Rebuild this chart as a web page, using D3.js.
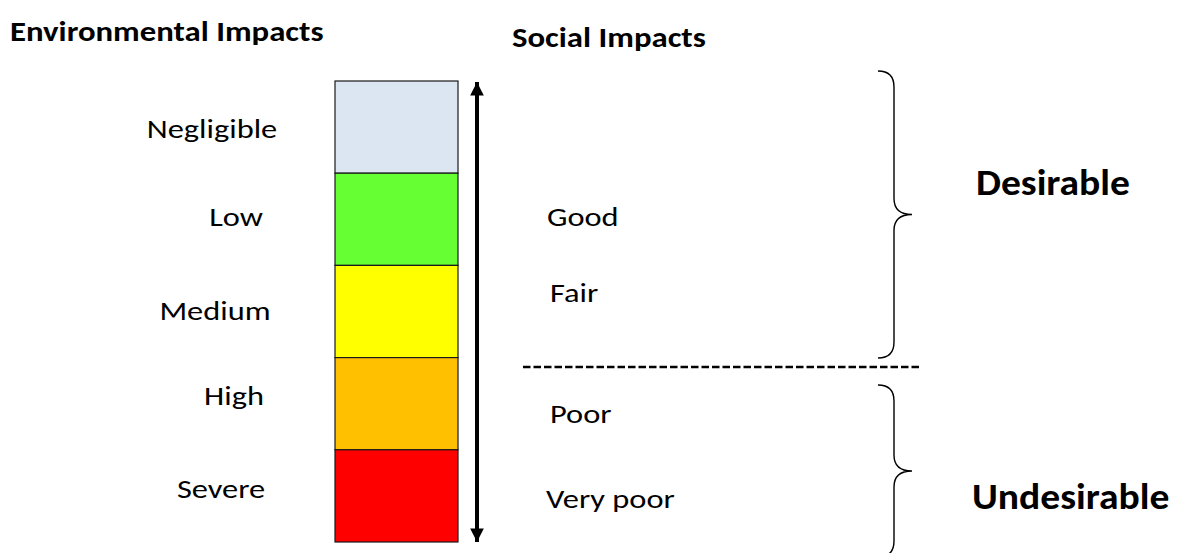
<!DOCTYPE html>
<html>
<head>
<meta charset="utf-8">
<script src="https://cdn.jsdelivr.net/npm/d3@7"></script>
<style>
  body { margin: 0; background: #fff; }
  svg text { font-family: Carlito, Lato, "Open Sans", sans-serif; fill: #000; }
</style>
</head>
<body>
<div id="chart"></div>
<script>
const levels = ["Negligible", "Low", "Medium", "High", "Severe"];
const levelColors = ["#dce6f2", "#66ff33", "#ffff00", "#ffc000", "#ff0000"];
const socialLabels = ["Good", "Fair", "Poor", "Very poor"];
const verdicts = ["Desirable", "Undesirable"];

const width = 1190, height = 553;

const svg = d3.select("#chart")
  .append("svg")
  .attr("width", width)
  .attr("height", height);

// the source text is a little wider than Lato, so stretch it sideways
const regStretch = 1.2, boldStretch = 1.13;

// vertical scale for the coloured bar
const y = d3.scaleBand()
  .domain(levels)
  .range([81, 542])
  .padding(0);

const color = d3.scaleOrdinal()
  .domain(levels)
  .range(levelColors);

const barX = 335, barW = 123;

svg.append("g")
  .selectAll("rect")
  .data(levels).enter()
  .append("rect")
  .attr("x", barX)
  .attr("y", d => y(d))
  .attr("width", barW)
  .attr("height", y.bandwidth())
  .attr("fill", d => color(d))
  .attr("stroke", "#1a1a1a")
  .attr("stroke-width", 1.2);

// left labels (each sits a little differently in the original)
const levelCx = [212, 236, 215, 234, 221];
const levelDy = [11, 7, 8, 1, 2];
svg.append("g")
  .selectAll("text")
  .data(levels).enter()
  .append("text")
  .attr("transform", (d, i) => "translate(" + levelCx[i] + "," +
    (y(d) + y.bandwidth() / 2 + levelDy[i]) + ") scale(" + regStretch + ",1)")
  .attr("text-anchor", "middle")
  .style("font-size", "27px")
  .text(d => d);

// double-headed arrow
const defs = svg.append("defs");
defs.append("marker")
  .attr("id", "head")
  .attr("viewBox", "0 0 10 10")
  .attr("refX", 10).attr("refY", 5)
  .attr("markerWidth", 3.4).attr("markerHeight", 3.4)
  .attr("markerUnits", "strokeWidth")
  .attr("orient", "auto-start-reverse")
  .append("path")
  .attr("d", "M0,0 L10,5 L0,10 Z")
  .attr("fill", "#000");

svg.append("line")
  .attr("x1", 477).attr("x2", 477)
  .attr("y1", y.range()[0] + 1).attr("y2", y.range()[1])
  .attr("stroke", "#000")
  .attr("stroke-width", 4)
  .attr("marker-start", "url(#head)")
  .attr("marker-end", "url(#head)");

// titles
svg.append("text")
  .attr("transform", "translate(10,41) scale(" + boldStretch + ",1)")
  .style("font-size", "29px").style("font-weight", "bold")
  .text("Environmental Impacts");
svg.append("text")
  .attr("transform", "translate(512,47) scale(" + boldStretch + ",1)")
  .style("font-size", "29px").style("font-weight", "bold")
  .text("Social Impacts");

// social labels
const socialY = d3.scaleOrdinal()
  .domain(socialLabels)
  .range([226, 302, 423, 508]);
const socialX = [547, 550, 550, 546];
svg.append("g")
  .selectAll("text")
  .data(socialLabels).enter()
  .append("text")
  .attr("transform", (d, i) => "translate(" + socialX[i] + "," + socialY(d) + ") scale(" + regStretch + ",1)")
  .style("font-size", "27px")
  .text(d => d);

// dashed divider
svg.append("line")
  .attr("x1", 523).attr("x2", 921)
  .attr("y1", 367).attr("y2", 367)
  .attr("stroke", "#000")
  .attr("stroke-width", 2.4)
  .attr("stroke-dasharray", "7.5,3");

// curly braces
function brace(x0, y0, y1) {
  const xm = x0 + 16, xt = x0 + 34, mid = (y0 + y1) / 2, r = 16;
  return "M" + x0 + "," + y0 +
    " C" + (x0 + 12) + "," + y0 + " " + xm + "," + (y0 + 6) + " " + xm + "," + (y0 + r) +
    " L" + xm + "," + (mid - r) +
    " C" + xm + "," + (mid - 6) + " " + (xm + 6) + "," + mid + " " + xt + "," + mid +
    " C" + (xm + 6) + "," + mid + " " + xm + "," + (mid + 6) + " " + xm + "," + (mid + r) +
    " L" + xm + "," + (y1 - r) +
    " C" + xm + "," + (y1 - 6) + " " + (x0 + 12) + "," + y1 + " " + x0 + "," + y1;
}
const braceSpans = [[71, 358], [385, 557]];
svg.append("g")
  .selectAll("path")
  .data(braceSpans).enter()
  .append("path")
  .attr("d", d => brace(878, d[0], d[1]))
  .attr("fill", "none")
  .attr("stroke", "#000")
  .attr("stroke-width", 1.4);

// verdict labels
const verdictX = [976, 972];
const verdictBase = [195, 509];
svg.append("g")
  .selectAll("text")
  .data(verdicts).enter()
  .append("text")
  .attr("transform", (d, i) => "translate(" + verdictX[i] + "," + verdictBase[i] + ") scale(1.07,1)")
  .style("font-size", "37px").style("font-weight", "bold")
  .text(d => d);
</script>
</body>
</html>
